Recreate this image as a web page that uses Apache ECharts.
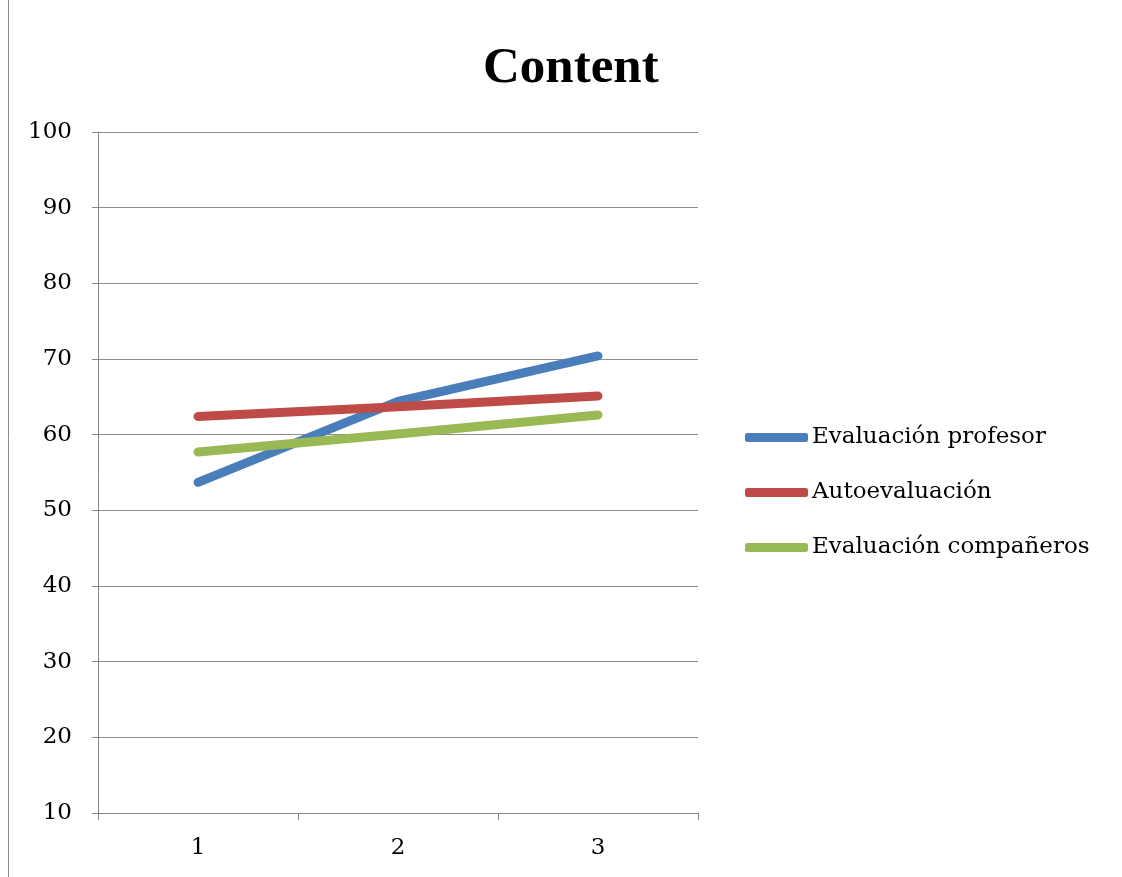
<!DOCTYPE html>
<html>
<head>
<meta charset="utf-8">
<script src="https://cdn.jsdelivr.net/npm/echarts@6/dist/echarts.min.js"></script>
<style>html,body{margin:0;padding:0;background:#fff;}#c{width:1122px;height:877px;}</style>
</head>
<body>
<div id="c"></div>
<script>
const categories = ['1', '2', '3'];
const profesor = [53.7, 64.4, 70.4];
const autoeval = [62.4, 63.7, 65.1];
const companeros = [57.7, 60.1, 62.6];
const seriesNames = ['Evaluación profesor', 'Autoevaluación', 'Evaluación compañeros'];

const chart = echarts.init(document.getElementById('c'), null, {renderer: 'canvas'});
const serif = '"DejaVu Serif", "Liberation Serif", serif';
const colors = ['#4a7ebb', '#be4b48', '#98b954'];
function mk(name, data, color) {
  return {
    name: name, type: 'line', data: data, showSymbol: false, symbol: 'none',
    lineStyle: {width: 9, color: color, cap: 'round', join: 'round'},
    itemStyle: {color: color}
  };
}
chart.setOption({
  animation: false,
  backgroundColor: '#fff',
  title: {
    text: 'Content', left: 478, top: 38,
    textStyle: {fontFamily: '"Liberation Serif", serif', fontWeight: 'bold', fontSize: 51, color: '#000'}
  },
  graphic: [{
    type: 'line', shape: {x1: 8.5, y1: 0, x2: 8.5, y2: 877},
    style: {stroke: '#8a8a8a', lineWidth: 1}
  }],
  legend: {
    orient: 'vertical', left: 740, top: 421, itemGap: 32,
    itemWidth: 63, itemHeight: 9, icon: 'roundRect',
    textStyle: {fontFamily: serif, fontSize: 23, color: '#000', padding: [0, 0, 0, -1]},
    data: seriesNames
  },
  grid: {left: 98, right: 424, top: 132, bottom: 64, containLabel: false},
  xAxis: {
    type: 'category', data: categories, boundaryGap: true,
    axisLine: {lineStyle: {color: '#868686', width: 1}},
    axisTick: {show: true, length: 7, lineStyle: {color: '#868686'}},
    axisLabel: {fontFamily: serif, fontSize: 23, color: '#000', margin: 24},
    splitLine: {show: false}
  },
  yAxis: {
    type: 'value', min: 10, max: 100, interval: 10,
    axisLine: {show: true, lineStyle: {color: '#868686', width: 1}},
    axisTick: {show: true, length: 6, lineStyle: {color: '#868686'}},
    axisLabel: {fontFamily: serif, fontSize: 23, color: '#000', margin: 26},
    splitLine: {show: true, lineStyle: {color: '#8c8c8c', width: 1}}
  },
  series: [
    mk(seriesNames[0], profesor, colors[0]),
    mk(seriesNames[1], autoeval, colors[1]),
    mk(seriesNames[2], companeros, colors[2])
  ]
});
</script>
</body>
</html>
